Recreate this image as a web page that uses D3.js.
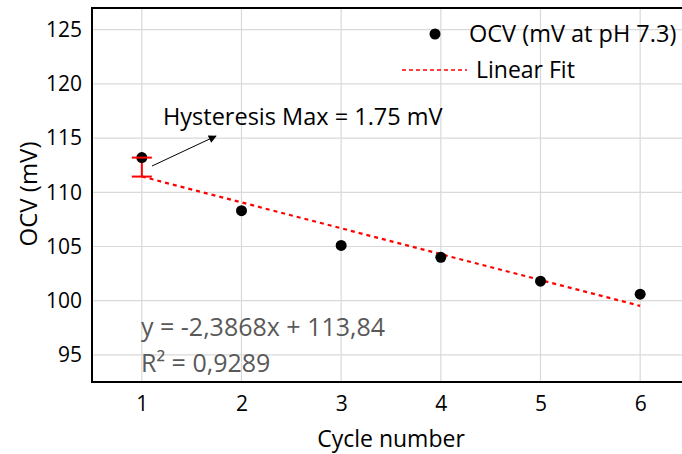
<!DOCTYPE html>
<html>
<head>
<meta charset="utf-8">
<script src="https://cdn.jsdelivr.net/npm/d3@7"></script>
<style>
  html, body { margin: 0; padding: 0; background: #fff; }
  svg text { font-family: "Open Sans", Lato, sans-serif; }
</style>
</head>
<body>
<svg id="chart" width="682" height="454"></svg>
<script>
// Open-circuit voltage per cycle
const cycles = [1, 2, 3, 4, 5, 6];
const ocv = [113.2, 108.3, 105.1, 104.0, 101.8, 100.6];
const hysteresisMax = 1.75;           // lower error on the first cycle
const fitSlope = -2.3868;
const fitIntercept = 113.84;
const fitR2 = 0.9289;
const xTicks = [1, 2, 3, 4, 5, 6];
const yTicks = [95, 100, 105, 110, 115, 120, 125];

const FONT = "'Open Sans', Lato, sans-serif";
const svg = d3.select("#chart");
const margin = { left: 92, top: 8, right: -8, bottom: 72 };
const W = 682, H = 454;

const x = d3.scaleLinear().domain([0.5, 6.5]).range([margin.left, W - margin.right]);
const y = d3.scaleLinear().domain([92.5, 127]).range([H - margin.bottom, margin.top]);

// grid
const grid = svg.append("g");
grid.selectAll(".gx").data(xTicks).join("line")
  .attr("x1", d => x(d)).attr("x2", d => x(d))
  .attr("y1", y.range()[0]).attr("y2", y.range()[1])
  .attr("stroke", "#d9d9d9").attr("stroke-width", 1.2);
grid.selectAll(".gy").data(yTicks).join("line")
  .attr("x1", x.range()[0]).attr("x2", x.range()[1])
  .attr("y1", d => y(d)).attr("y2", d => y(d))
  .attr("stroke", "#d9d9d9").attr("stroke-width", 1.2);

// axes
const xAxis = svg.append("g").attr("transform", `translate(0,${y.range()[0]})`)
  .call(d3.axisBottom(x).tickValues(xTicks).tickSize(0).tickPadding(14).tickFormat(d3.format("d")));
const yAxis = svg.append("g").attr("transform", `translate(${x.range()[0]},0)`)
  .call(d3.axisLeft(y).tickValues(yTicks).tickSize(0).tickPadding(10).tickFormat(d3.format("d")));
[xAxis, yAxis].forEach(a => {
  a.select(".domain").remove();
  a.selectAll("text").attr("font-size", 21).attr("fill", "#000").style("font-family", FONT);
});

// frame (left, top, bottom)
svg.append("path")
  .attr("d", `M${x.range()[1]},${y.range()[1]} H${x.range()[0]} V${y.range()[0]} H${x.range()[1]}`)
  .attr("fill", "none").attr("stroke", "#000").attr("stroke-width", 2);

// linear fit
const fitLine = d3.line().x(d => x(d)).y(d => y(fitSlope * d + fitIntercept));
svg.append("path").datum([cycles[0], cycles[cycles.length - 1]])
  .attr("d", fitLine).attr("fill", "none")
  .attr("stroke", "#ff0000").attr("stroke-width", 2.2).attr("stroke-dasharray", "4,4");

// hysteresis error bar on cycle 1
const eb = svg.append("g").attr("stroke", "#ff0000").attr("stroke-width", 2);
const ex = x(cycles[0]);
eb.append("line").attr("x1", ex).attr("x2", ex)
  .attr("y1", y(ocv[0])).attr("y2", y(ocv[0] - hysteresisMax));
eb.append("line").attr("x1", ex - 10).attr("x2", ex + 10)
  .attr("y1", y(ocv[0] - hysteresisMax)).attr("y2", y(ocv[0] - hysteresisMax));

// points
svg.selectAll(".pt").data(cycles).join("circle")
  .attr("cx", d => x(d)).attr("cy", (d, i) => y(ocv[i])).attr("r", 5.5).attr("fill", "#000");

// top cap drawn over the point
svg.append("line").attr("x1", ex - 10).attr("x2", ex + 10)
  .attr("y1", y(ocv[0])).attr("y2", y(ocv[0]))
  .attr("stroke", "#ff0000").attr("stroke-width", 2);

// annotation arrow
const defs = svg.append("defs");
defs.append("marker").attr("id", "arrowHead")
  .attr("viewBox", "0 0 10 10").attr("refX", 9).attr("refY", 5)
  .attr("markerWidth", 11).attr("markerHeight", 8).attr("markerUnits", "userSpaceOnUse")
  .attr("orient", "auto")
  .append("path").attr("d", "M0,0 L10,5 L0,10 z").attr("fill", "#000");
svg.append("line")
  .attr("x1", 152).attr("y1", 166).attr("x2", 216).attr("y2", 136)
  .attr("stroke", "#000").attr("stroke-width", 1).attr("marker-end", "url(#arrowHead)");
svg.append("text").attr("x", 163).attr("y", 125).attr("font-size", 23.5).attr("fill", "#000")
  .text(`Hysteresis Max = ${hysteresisMax} mV`);

// fit equation
const fmt = v => String(v).replace(".", ",");
svg.append("text").attr("x", 141).attr("y", 336).attr("font-size", 25).attr("fill", "#595959")
  .text(`y = ${fmt(fitSlope)}x + ${fmt(fitIntercept)}`);
svg.append("text").attr("x", 141).attr("y", 372).attr("font-size", 25).attr("fill", "#595959")
  .text(`R² = ${fmt(fitR2)}`);

// legend
const lg = svg.append("g");
lg.append("circle").attr("cx", 435).attr("cy", 34).attr("r", 5.5).attr("fill", "#000");
lg.append("text").attr("x", 469).attr("y", 41.5).attr("font-size", 23.5).attr("fill", "#000")
  .text("OCV (mV at pH 7.3)");
lg.append("line").attr("x1", 402).attr("x2", 467).attr("y1", 70).attr("y2", 70)
  .attr("stroke", "#ff0000").attr("stroke-width", 1.5).attr("stroke-dasharray", "4,3");
lg.append("text").attr("x", 476).attr("y", 77.5).attr("font-size", 23).attr("fill", "#000")
  .text("Linear Fit");

// axis titles
svg.append("text").attr("x", (x.range()[0] + x.range()[1]) / 2).attr("y", 447)
  .attr("text-anchor", "middle").attr("font-size", 23).attr("fill", "#000").text("Cycle number");
svg.append("text").attr("transform", `translate(37,194) rotate(-90)`)
  .attr("text-anchor", "middle").attr("font-size", 24).attr("fill", "#000").text("OCV (mV)");
</script>
</body>
</html>
